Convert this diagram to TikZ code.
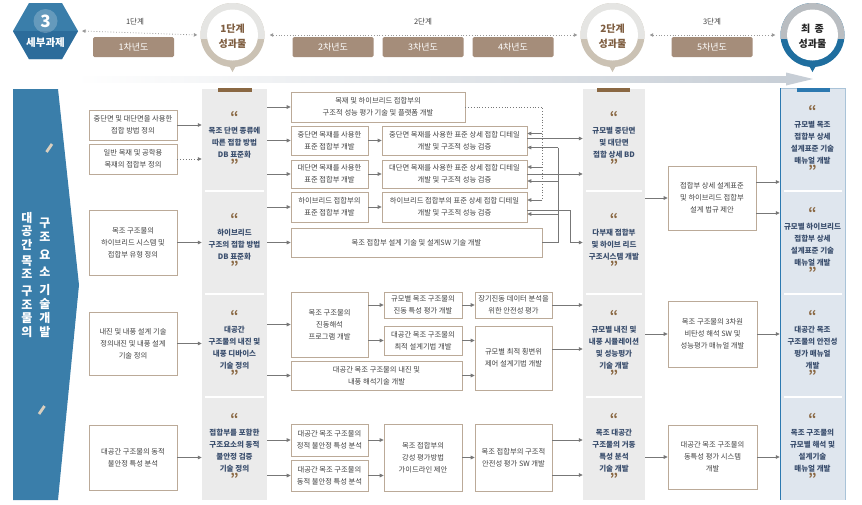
\documentclass[tikz,border=0pt]{standalone}
\usepackage{fontspec}
\setmainfont{Noto Sans CJK KR}
\usetikzlibrary{arrows.meta,calc}
\definecolor{bandblue}{HTML}{3A7EAA}
\definecolor{hexblue}{HTML}{2C6C9B}
\definecolor{cellgray}{HTML}{EBEBEB}
\definecolor{cellblue}{HTML}{DFE6EE}
\definecolor{edgeblue}{HTML}{2C79B0}
\definecolor{edgelight}{HTML}{A9C3D8}
\definecolor{hdrtan}{HTML}{A58D7A}
\definecolor{quotebrown}{HTML}{8A6843}
\definecolor{celltext}{HTML}{3B4F6E}
\definecolor{boxedge}{HTML}{BBAA98}
\definecolor{arrgray}{HTML}{777777}
\definecolor{txtgray}{HTML}{404040}
\definecolor{ringtop}{HTML}{E5E5E3}
\definecolor{ringbot}{HTML}{CBC2B4}
\definecolor{ringgrey}{HTML}{B9BDC1}
\definecolor{ringblue}{HTML}{1F6E9F}
\definecolor{hdrbrown}{HTML}{7E5D40}
\definecolor{slashbeige}{HTML}{D9CFBF}
\definecolor{bandgray}{HTML}{C7CED6}
\definecolor{hdrline}{HTML}{9A9A9A}
\newcommand\mkbox[6]{\node[sbox,minimum width={(#4)-(#2)},minimum height={(#5)-(#3)}] (#1) at ({((#2)+(#4))/2},{((#3)+(#5))/2}) {#6};}
\newcommand\qo{{\color{quotebrown}\bfseries\fontsize{13}{12}\selectfont “}}
\newcommand\qc{{\color{quotebrown}\bfseries\fontsize{13}{12}\selectfont ”}}
\newcommand\mkcell[6]{\node[cell,minimum width={(#4)-(#2)},minimum height={(#5)-(#3)}] (#1) at ({((#2)+(#4))/2},{((#3)+(#5))/2}) {\qo\\#6\\\qc};}
\begin{document}
\begin{tikzpicture}[x=1pt,y=-1pt,
 sbox/.style={draw=boxedge,line width=0.7pt,fill=white,inner sep=0pt,align=center,text=txtgray,font=\fontsize{7.3}{11.8}\selectfont},
 cell/.style={inner sep=0pt,align=center,text=celltext,font=\bfseries\fontsize{7.5}{12}\selectfont},
 arr/.style={draw=arrgray,line width=0.8pt,-{Triangle[length=4pt,width=3.6pt]}},
 fbl/.style={draw=arrgray,line width=0.8pt},
 hdrbox/.style={fill=hdrtan,rounded corners=1.5pt,text=white,font=\fontsize{9}{10}\selectfont,inner sep=0pt,minimum width=81pt,minimum height=20pt},
 hdrarr/.style={draw=hdrline,dotted,line width=0.8pt,{Triangle[length=3.5pt,width=3.5pt]}-{Triangle[length=3.5pt,width=3.5pt]}},
 lbl/.style={font=\fontsize{7.5}{8}\selectfont,text=txtgray,inner sep=0pt},
 ctext/.style={font=\bfseries\fontsize{10}{15}\selectfont,text=hdrbrown,align=center,inner sep=0pt},
 vtext/.style={font=\bfseries\fontsize{12}{13.5}\selectfont,text=white,align=center,inner sep=0pt},
 ring/.style={circle,minimum size=64pt,inner sep=0pt}
]
\useasboundingbox (0,0) rectangle (862,504);
\fill[white] (0,0) rectangle (862,504);

% ---------- header ----------
\fill[bandblue] (13,31)--(29,3)--(62,3)--(78,31)--(62,59)--(29,59)--cycle;
\fill[hexblue] (13,31)--(78,31)--(62,59)--(29,59)--cycle;
\fill[white,opacity=0.22] (45.5,21) circle (12);
\coordinate (hexE) at (78,31);
\node[font=\bfseries\fontsize{17}{17}\selectfont,text=white,inner sep=0pt] (hnum) at (45.5,21) {3};
\node[font=\bfseries\fontsize{10.5}{12}\selectfont,text=white,inner sep=0pt] (htit) at (45.5,43) {세부과제};

% big progress arrow
\shade[left color=white,right color=bandgray] (75,76) rectangle (787,82);
\fill[bandgray] (786,72.5)--(813,79)--(786,85.5)--cycle;

% circles
\node[ring] (c1) at (232.5,35) {};
\fill[ringbot] (c1.center) circle (32);
\begin{scope}\clip (190,0) rectangle (275,38); \fill[ringtop] (c1.center) circle (32); \end{scope}
\fill[ringbot] (228,64)--(237,64)--(232.5,72)--cycle;
\fill[white] (c1.center) circle (25.5);
\node[ctext] (c1t) at (232.5,36) {1단계\\성과물};

\node[ring] (c2) at (612.5,35) {};
\fill[ringbot] (c2.center) circle (32);
\begin{scope}\clip (570,0) rectangle (655,38); \fill[ringtop] (c2.center) circle (32); \end{scope}
\fill[ringbot] (608,64)--(617,64)--(612.5,72)--cycle;
\fill[white] (c2.center) circle (25.5);
\node[ctext] (c2t) at (612.5,36) {2단계\\성과물};

\node[ring] (c3) at (812.5,35) {};
\fill[ringblue] (c3.center) circle (32);
\begin{scope}\clip (770,0) rectangle (855,38); \fill[ringgrey] (c3.center) circle (32); \end{scope}
\fill[ringblue] (808,64)--(817,64)--(812.5,72)--cycle;
\fill[white] (c3.center) circle (25.5);
\node[ctext,text=black!85] (c3t) at (812.5,36) {최 \hspace{2pt}종\\성과물};

% header lines and labels
\draw[hdrarr] ([xshift=4pt]hexE) -- ([xshift=-3pt]c1.west);
\draw[hdrarr] ([xshift=5pt]c1.east) -- ([xshift=-3pt]c2.west);
\draw[hdrarr] ([xshift=5pt]c2.east) -- ([xshift=-5pt]c3.west);
\node[lbl] (l1) at (135,22) {1단계};
\node[lbl] (l2) at (423,22) {2단계};
\node[lbl] (l3) at (712,22) {3단계};
\node[hdrbox] (h1) at (133.5,47) {1차년도};
\node[hdrbox] (h2) at (333,47) {2차년도};
\node[hdrbox] (h3) at (423,47) {3차년도};
\node[hdrbox] (h4) at (513,47) {4차년도};
\node[hdrbox] (h5) at (712,47) {5차년도};

% ---------- left band ----------
\fill[bandblue] (13,89)--(58,89)--(79,285)--(58,500)--(13,500)--cycle;
\draw[slashbeige,line width=2.8pt] (46.5,152)--(52,144);
\draw[slashbeige,line width=2.8pt] (39,414)--(44.5,406);
\node[vtext] (vt1) at (27,275) {대\\공\\간\\[2.5pt]목\\조\\[3.5pt]구\\조\\물\\의};
\node[vtext,font=\bfseries\fontsize{12}{14}\selectfont] (vt2) at (45,277.5) {구\\조\\[4pt]요\\[3pt]소\\[4pt]기\\술\\개\\발};

% ---------- column backgrounds ----------
\fill[cellgray] (202,89) rectangle (267,500);
\fill[cellgray] (583,89) rectangle (645,500);
\fill[cellblue] (780,88) rectangle (845,500);
\draw[edgelight,line width=0.8pt] (780,88) -- (845,88) -- (845,500);
\draw[edgeblue,line width=1pt] (780,88) -- (780,500);
\foreach \yy in {191,294,397} {
  \draw[white,line width=1.6pt] (205,\yy) -- (264,\yy);
  \draw[white,line width=1.6pt] (586,\yy) -- (642,\yy);
  \draw[white,line width=1.6pt] (784,\yy) -- (842,\yy);
}
\fill[quotebrown] (218,88) rectangle (252,91.5);
\fill[quotebrown] (597,88) rectangle (630,91.5);
\fill[edgeblue] (797,88) rectangle (830,91.5);

% ---------- column 2 / 4 / 6 cells ----------
\mkcell{c2a}{202}{89}{267}{191}{목조 단면 종류에\\따른 접합 방법\\DB 표준화}
\mkcell{c2b}{202}{191}{267}{294}{하이브리드\\구조의 접합 방법\\DB 표준화}
\mkcell{c2c}{202}{294}{267}{397}{대공간\\구조물의 내진 및\\내풍 디바이스\\기술 정의}
\mkcell{c2d}{202}{397}{267}{500}{접합부를 포함한\\구조요소의 동적\\불안정 검증\\기술 정의}

\mkcell{c4a}{583}{89}{645}{191}{규모별 중단면\\및 대단면\\접합 상세 BD}
\mkcell{c4b}{583}{191}{645}{294}{다부재 접합부\\및 하이브 리드\\구조시스템 개발}
\mkcell{c4c}{583}{294}{645}{397}{규모별 내진 및\\내풍 시뮬레이션\\및 성능평가\\기술 개발}
\mkcell{c4d}{583}{397}{645}{500}{목조 대공간\\구조물의 거동\\특성 분석\\기술 개발}

\mkcell{c6a}{780}{89}{845}{191}{규모별 목조\\접합부 상세\\설계표준 기술\\매뉴얼 개발}
\mkcell{c6b}{780}{191}{845}{294}{규모별 하이브리드\\접합부 상세\\설계표준 기술\\매뉴얼 개발}
\mkcell{c6c}{780}{294}{845}{397}{대공간 목조\\구조물의 안전성\\평가 매뉴얼\\개발}
\mkcell{c6d}{780}{397}{845}{500}{목조 구조물의\\규모별 해석 및\\설계기술\\매뉴얼 개발}

% ---------- column 1 boxes ----------
\mkbox{b1a}{89}{110}{177}{140}{중단면 및 대단면을 사용한\\접합 방법 정의}
\mkbox{b1b}{89}{144}{177}{174}{일반 목재 및 공학용\\목재의 접합부 정의}
\mkbox{b1c}{89}{210}{177}{275}{목조 구조물의\\하이브리드 시스템 및\\접합부 유형 정의}
\mkbox{b1d}{89}{312}{177}{375}{내진 및 내풍 설계 기술\\정의내진 및 내풍 설계\\기술 정의}
\mkbox{b1e}{89}{425}{177}{490}{대공간 구조물의 동적\\불안정 특성 분석}

% ---------- column 3 boxes ----------
\mkbox{b3a}{291}{92}{465}{122}{목재 및 하이브리드 접합부의\\구조적 성능 평가 기술 및 플랫폼 개발}
\mkbox{b3b1}{291}{126}{368}{155}{중단면 목재를 사용한\\표준 접합부 개발}
\mkbox{b3b2}{382}{126}{527}{155}{중단면 목재를 사용한 표준 상세 접합 디테일\\개발 및 구조적 성능 검증}
\mkbox{b3c1}{291}{160}{368}{188}{대단면 목재를 사용한\\표준 접합부 개발}
\mkbox{b3c2}{382}{160}{527}{188}{대단면 목재를 사용한 표준 상세 접합 디테일\\개발 및 구조적 성능 검증}
\mkbox{b3d1}{291}{192}{368}{222}{하이브리드 접합부의\\표준 접합부 개발}
\mkbox{b3d2}{382}{192}{527}{222}{하이브리드 접합부의 표준 상세 접합 디테일\\개발 및 구조적 성능 검증}
\mkbox{b3e}{291}{228}{542}{257}{목조 접합부 설계 기술 및 설계SW 기술 개발}

\mkbox{b3f}{291}{292}{368}{357}{목조 구조물의\\진동해석\\프로그램 개발}
\mkbox{b3g}{384}{292}{462}{318}{규모별 목조 구조물의\\진동 특성 평가 개발}
\mkbox{b3h}{384}{326}{462}{355}{대공간 목조 구조물의\\최적 설계기법 개발}
\mkbox{b3i}{475}{292}{552}{318}{장기진동 데이터 분석을\\위한 안전성 평가}
\mkbox{b3j}{475}{326}{552}{390}{규모별 최적 횡변위\\제어 설계기법 개발}
\mkbox{b3k}{291}{361}{462}{390}{대공간 목조 구조물의 내진 및\\내풍 해석기술 개발}

\mkbox{b3l}{291}{424}{368}{456}{대공간 목조 구조물의\\정적 불안정 특성 분석}
\mkbox{b3m}{291}{460}{368}{491}{대공간 목조 구조물의\\동적 불안정 특성 분석}
\mkbox{b3n}{384}{424}{462}{491}{목조 접합부의\\강성 평가방법\\가이드라인 제안}
\mkbox{b3o}{475}{424}{552}{491}{목조 접합부의 구조적\\안전성 평가 SW 개발}

% ---------- column 5 boxes ----------
\mkbox{b5a}{668}{166}{756}{230}{접합부 상세 설계표준\\및 하이브리드 접합부\\설계 법규 제안}
\mkbox{b5b}{668}{301}{757}{367}{목조 구조물의 3차원\\비탄성 해석 SW 및\\성능평가 매뉴얼 개발}
\mkbox{b5c}{668}{425}{757}{489}{대공간 목조 구조물의\\동특성 평가 시스템\\개발}

% ---------- connectors ----------
% col1 -> col2
\draw[arr] (b1a.east) -- (b1a.east -| c2a.west);
\draw[arr,dotted] (b1b.east) -- (b1b.east -| c2a.west);
\draw[arr] (b1c.east) -- (b1c.east -| c2b.west);
\draw[arr] (b1d.east) -- (b1d.east -| c2c.west);
\draw[arr] (b1e.east) -- (b1e.east -| c2d.west);
% col2 -> col3
\foreach \t in {b3a,b3b1,b3c1} \draw[arr] (c2a.east |- \t.west) -- (\t.west);
\foreach \t in {b3d1,b3e} \draw[arr] (c2b.east |- \t.west) -- (\t.west);
\foreach \t in {b3f,b3k} \draw[arr] (c2c.east |- \t.west) -- (\t.west);
\foreach \t in {b3l,b3m} \draw[arr] (c2d.east |- \t.west) -- (\t.west);
% within col3
\draw[arr] (b3b1) -- (b3b2);
\draw[arr] (b3c1) -- (b3c2);
\draw[arr] (b3d1) -- (b3d2);
\draw[arr] (b3f.east |- b3g.west) -- (b3g.west);
\draw[arr] (b3f.east |- b3h.west) -- (b3h.west);
\draw[arr] (b3g) -- (b3i);
\draw[arr] (b3h.east) -- (b3h.east -| b3j.west);
\draw[arr] (b3k.east) -- (b3k.east -| b3j.west);
\draw[arr] (b3l.east) -- (b3l.east -| b3n.west);
\draw[arr] (b3m.east) -- (b3m.east -| b3n.west);
\draw[arr] (b3n) -- (b3o);
% feedback lines
\draw[fbl,dotted] (b3a.east) -| ($(b3d2.east -| b3e.east)+(0,-7)$);
\foreach \t in {b3b2,b3c2,b3d2} \draw[arr] ($(\t.east -| b3e.east)+(0,-7)$) -- ($(\t.east)+(0,-7)$);
\draw[fbl] (b3e.east) -| ($(b3b2.east -| b3e.east)+(16,7)$);
\foreach \t in {b3b2,b3c2,b3d2} \draw[arr] ($(\t.east -| b3e.east)+(16,7)$) -- ($(\t.east)+(0,7)$);
% col3 -> col4
\draw[arr] ($(b3b2.east)+(0,-2)$) -- ($(b3b2.east -| c4a.west)+(0,-2)$);
\draw[arr] (b3c2.east) -- (b3c2.east -| c4a.west);
\draw[arr] ($(b3d2.east)+(0,3)$) -| ($(b3e.east)+(28,0)$) -- (b3e.east -| c4b.west);
\draw[arr] (b3i.east) -- (b3i.east -| c4c.west);
\draw[arr] ($(b3j.east)+(0,-9)$) -- ($(b3j.east -| c4c.west)+(0,-9)$);
\draw[arr] ($(b3o.east)+(0,-17.5)$) -- ($(b3o.east -| c4d.west)+(0,-17.5)$);
\draw[arr] ($(b3o.east)+(0,17.5)$) -- ($(b3o.east -| c4d.west)+(0,17.5)$);
% col4 -> col5
\draw[arr] (c4b.east |- b5a.west) -- (b5a.west);
\draw[arr] (c4c.east |- b5b.west) -- (b5b.west);
\draw[arr] (c4d.east |- b5c.west) -- (b5c.west);
% col5 -> col6
\draw[arr] ($(b5a.east)+(0,-16)$) -- ($(b5a.east -| c6a.west)+(0,-16)$);
\draw[arr] ($(b5a.east)+(0,15)$) -- ($(b5a.east -| c6b.west)+(0,15)$);
\draw[arr] (b5b.east) -- (b5b.east -| c6c.west);
\draw[arr] (b5c.east) -- (b5c.east -| c6d.west);
\end{tikzpicture}
\end{document}
